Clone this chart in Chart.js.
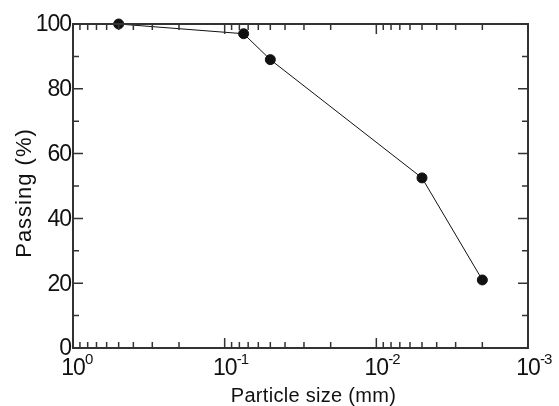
<!DOCTYPE html>
<html>
<head>
<meta charset="utf-8">
<script src="https://cdn.jsdelivr.net/npm/chart.js@4.4.1/dist/chart.umd.min.js"></script>
<style>
    body { margin: 0; background: #fff; }
</style>
</head>
<body>
<canvas id="chart" width="559" height="406"></canvas>
<script>
const particleSize = [0.5, 0.075, 0.05, 0.005, 0.002];
const passing = [100, 97, 89, 52.5, 21];

const xMajorTicks = [1, 0.1, 0.01, 0.001];
const xExponents = ['0', '-1', '-2', '-3'];
const yMajorTicks = [0, 20, 40, 60, 80, 100];
const yMinorTicks = [10, 30, 50, 70, 90];

const xMinorTicks = [];
[0.001, 0.01, 0.1].forEach(base => {
    for (let k = 2; k <= 9; k++) xMinorTicks.push(k * base);
});

const font = '"Liberation Sans", Arial, sans-serif';
const axisColor = '#333';

const framePlugin = {
    id: 'frame',
    afterDraw(chart) {
        const ctx = chart.ctx;
        const { left, right, top, bottom } = chart.chartArea;
        const xs = chart.scales.x;
        const ys = chart.scales.y;
        ctx.save();
        ctx.strokeStyle = axisColor;
        ctx.lineWidth = 2;
        ctx.strokeRect(left, top, right - left, bottom - top);

        // x ticks, top and bottom, pointing inward
        ctx.lineWidth = 1.5;
        ctx.beginPath();
        xMajorTicks.forEach(v => {
            const px = xs.getPixelForValue(v);
            ctx.moveTo(px, bottom); ctx.lineTo(px, bottom - 10);
            ctx.moveTo(px, top); ctx.lineTo(px, top + 10);
        });
        xMinorTicks.forEach(v => {
            const px = xs.getPixelForValue(v);
            ctx.moveTo(px, bottom); ctx.lineTo(px, bottom - 6);
            ctx.moveTo(px, top); ctx.lineTo(px, top + 6);
        });
        // y ticks, left and right, pointing inward
        yMajorTicks.forEach(v => {
            const py = ys.getPixelForValue(v);
            ctx.moveTo(left, py); ctx.lineTo(left + 10, py);
            ctx.moveTo(right, py); ctx.lineTo(right - 10, py);
        });
        yMinorTicks.forEach(v => {
            const py = ys.getPixelForValue(v);
            ctx.moveTo(left, py); ctx.lineTo(left + 6, py);
            ctx.moveTo(right, py); ctx.lineTo(right - 6, py);
        });
        ctx.stroke();

        // tick labels
        ctx.fillStyle = '#111';
        ctx.letterSpacing = '-1px';
        ctx.font = '23px ' + font;
        ctx.textAlign = 'right';
        ctx.textBaseline = 'middle';
        yMajorTicks.forEach(v => {
            ctx.fillText(String(v), left - 2, ys.getPixelForValue(v) + 1);
        });

        ctx.textBaseline = 'alphabetic';
        xMajorTicks.forEach((v, i) => {
            const px = xs.getPixelForValue(v);
            ctx.font = '23px ' + font;
            ctx.textAlign = 'center';
            ctx.fillText('10', px, bottom + 27);
            ctx.font = '15px ' + font;
            ctx.textAlign = 'left';
            ctx.fillText(xExponents[i], px + 12, bottom + 16);
        });

        // axis titles
        ctx.letterSpacing = '0.3px';
        ctx.font = '20px ' + font;
        ctx.textAlign = 'center';
        ctx.fillText('Particle size (mm)', (left + right) / 2 + 13, 402);

        ctx.letterSpacing = '1px';
        ctx.font = '22px ' + font;
        ctx.translate(31, 193);
        ctx.rotate(-Math.PI / 2);
        ctx.fillText('Passing (%)', 0, 0);
        ctx.restore();
    }
};

const points = particleSize.map((x, i) => ({ x: x, y: passing[i] }));

new Chart(document.getElementById('chart'), {
    type: 'line',
    data: {
        datasets: [
            {
                label: 'Passing',
                data: points,
                borderColor: '#111',
                borderWidth: 1,
                backgroundColor: '#111',
                pointBackgroundColor: '#111',
                pointBorderColor: '#111',
                pointRadius: 5,
                tension: 0,
                clip: false,
            },
        ],
    },
    options: {
        responsive: false,
        animation: false,
        layout: {
            padding: { left: 73, right: 31, top: 24, bottom: 58 },
        },
        scales: {
            x: { type: 'logarithmic', reverse: true, min: 0.001, max: 1, display: false },
            y: { type: 'linear', min: 0, max: 100, display: false },
        },
        plugins: {
            legend: { display: false },
            tooltip: { enabled: false },
        },
    },
    plugins: [framePlugin],
});
</script>
</body>
</html>
